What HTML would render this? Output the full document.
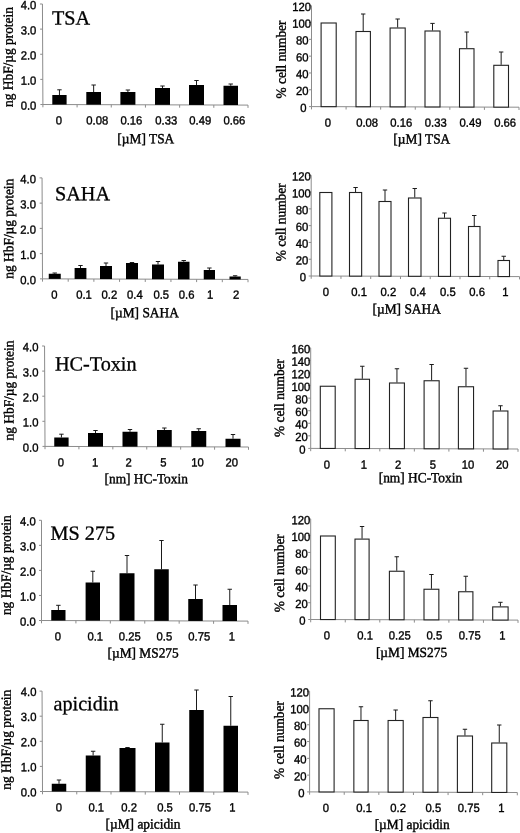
<!DOCTYPE html>
<html lang="en">
<head>
<meta charset="utf-8">
<title>HDAC inhibitors: HbF induction and cell number</title>
<style>
html,body{margin:0;padding:0;background:#fff;}
body{width:520px;height:833px;overflow:hidden;}
svg{display:block;}
.t{font-family:"Liberation Sans",Arial,sans-serif;font-size:12px;fill:#000;stroke:#000;stroke-width:0.36px;}
.l{font-family:"Liberation Serif","Times New Roman",serif;font-size:14.0px;fill:#000;stroke:#000;stroke-width:0.4px;}
.h{font-family:"Liberation Serif","Times New Roman",serif;font-size:20.2px;fill:#000;stroke:#000;stroke-width:0.3px;}
</style>
</head>
<body>
<svg width="520" height="833" viewBox="0 0 520 833">
<rect width="520" height="833" fill="#fff"/>
<!-- panel -->
<g stroke="#8c8c8c" stroke-width="1" fill="none">
<path d="M42.449999999999996 4.0L42.9 104.5V107.3M40.4 104.5H42.9L248 105.1"/>
<path d="M40.29 79.38h2.5M40.17 54.25h2.5M40.06 29.12h2.5M39.95 4.00h2.5M77.08 104.60V107.40M111.27 104.70V107.50M145.45 104.80V107.60M179.63 104.90V107.70M213.82 105.00V107.80M248.00 105.10V107.90"/>
</g>
<text class="t" text-anchor="end" transform="translate(36.3 109.8) rotate(0.03) scale(0.94 1)">0.0</text>
<text class="t" text-anchor="end" transform="translate(36.3 84.7) rotate(0.03) scale(0.94 1)">1.0</text>
<text class="t" text-anchor="end" transform="translate(36.3 59.5) rotate(0.03) scale(0.94 1)">2.0</text>
<text class="t" text-anchor="end" transform="translate(36.3 34.4) rotate(0.03) scale(0.94 1)">3.0</text>
<text class="t" text-anchor="end" transform="translate(36.3 9.3) rotate(0.03) scale(0.94 1)">4.0</text>
<text class="t" text-anchor="middle" transform="translate(58.8 124.6) rotate(0.03) scale(0.94 1)">0</text>
<text class="t" text-anchor="middle" transform="translate(97.2 124.6) rotate(0.03) scale(0.94 1)">0.08</text>
<text class="t" text-anchor="middle" transform="translate(131.4 124.6) rotate(0.03) scale(0.94 1)">0.16</text>
<text class="t" text-anchor="middle" transform="translate(166.2 124.6) rotate(0.03) scale(0.94 1)">0.33</text>
<text class="t" text-anchor="middle" transform="translate(200.3 124.6) rotate(0.03) scale(0.94 1)">0.49</text>
<text class="t" text-anchor="middle" transform="translate(234.4 124.6) rotate(0.03) scale(0.94 1)">0.66</text>
<path d="M59.45 95V89.8M57.25 89.8H61.65" stroke="#1a1a1a" stroke-width="1" fill="none"/>
<rect x="52.3" y="95" width="14.30" height="9.55" fill="#000"/>
<path d="M93.65 92V85M91.45 85H95.85" stroke="#1a1a1a" stroke-width="1" fill="none"/>
<rect x="86.3" y="92" width="14.70" height="12.65" fill="#000"/>
<path d="M127.90 92V90M125.70 90H130.10" stroke="#1a1a1a" stroke-width="1" fill="none"/>
<rect x="120.4" y="92" width="15.00" height="12.75" fill="#000"/>
<path d="M162.50 88V86M160.30 86H164.70" stroke="#1a1a1a" stroke-width="1" fill="none"/>
<rect x="155" y="88" width="15.00" height="16.85" fill="#000"/>
<path d="M196.50 85V80.5M194.30 80.5H198.70" stroke="#1a1a1a" stroke-width="1" fill="none"/>
<rect x="189" y="85" width="15.00" height="19.95" fill="#000"/>
<path d="M230.75 85.75V84M228.55 84H232.95" stroke="#1a1a1a" stroke-width="1" fill="none"/>
<rect x="223.5" y="85.75" width="14.50" height="19.30" fill="#000"/>
<text class="h" transform="translate(52 24.4) rotate(0.03)">TSA</text>
<text class="l" text-anchor="middle" transform="translate(145.8 143.2) rotate(0.03) scale(0.956 1)">[µM] TSA</text>
<text class="l" text-anchor="middle" transform="translate(12.8 57.0) rotate(-89.97) scale(0.956 1)">ng HbF/µg protein</text>
<!-- panel -->
<g stroke="#8c8c8c" stroke-width="1" fill="none">
<path d="M42.05 177.9L42.5 278.85V281.65000000000003M40.0 278.85H42.5L248 279.45000000000005"/>
<path d="M39.89 253.61h2.5M39.77 228.38h2.5M39.66 203.14h2.5M39.55 177.90h2.5M68.19 278.93V281.73M93.88 279.00V281.80M119.56 279.08V281.88M145.25 279.15V281.95M170.94 279.23V282.03M196.62 279.30V282.10M222.31 279.38V282.18M248.00 279.45V282.25"/>
</g>
<text class="t" text-anchor="end" transform="translate(35.9 284.2) rotate(0.03) scale(0.94 1)">0.0</text>
<text class="t" text-anchor="end" transform="translate(35.9 258.9) rotate(0.03) scale(0.94 1)">1.0</text>
<text class="t" text-anchor="end" transform="translate(35.9 233.7) rotate(0.03) scale(0.94 1)">2.0</text>
<text class="t" text-anchor="end" transform="translate(35.9 208.4) rotate(0.03) scale(0.94 1)">3.0</text>
<text class="t" text-anchor="end" transform="translate(35.9 183.2) rotate(0.03) scale(0.94 1)">4.0</text>
<text class="t" text-anchor="middle" transform="translate(54.5 298.8) rotate(0.03) scale(0.94 1)">0</text>
<text class="t" text-anchor="middle" transform="translate(84.0 298.8) rotate(0.03) scale(0.94 1)">0.1</text>
<text class="t" text-anchor="middle" transform="translate(109.4 298.8) rotate(0.03) scale(0.94 1)">0.2</text>
<text class="t" text-anchor="middle" transform="translate(134.9 298.8) rotate(0.03) scale(0.94 1)">0.4</text>
<text class="t" text-anchor="middle" transform="translate(161.2 298.8) rotate(0.03) scale(0.94 1)">0.5</text>
<text class="t" text-anchor="middle" transform="translate(186.6 298.8) rotate(0.03) scale(0.94 1)">0.6</text>
<text class="t" text-anchor="middle" transform="translate(210.1 298.8) rotate(0.03) scale(0.94 1)">1</text>
<text class="t" text-anchor="middle" transform="translate(236.1 298.8) rotate(0.03) scale(0.94 1)">2</text>
<path d="M54.75 273.75V273M52.55 273H56.95" stroke="#1a1a1a" stroke-width="1" fill="none"/>
<rect x="48.75" y="273.75" width="12.00" height="5.14" fill="#000"/>
<path d="M80.50 268V265.5M78.30 265.5H82.70" stroke="#1a1a1a" stroke-width="1" fill="none"/>
<rect x="74.6" y="268" width="11.80" height="10.96" fill="#000"/>
<path d="M106.00 266V263M103.80 263H108.20" stroke="#1a1a1a" stroke-width="1" fill="none"/>
<rect x="100" y="266" width="12.00" height="13.04" fill="#000"/>
<path d="M132.00 263V262.5M129.80 262.5H134.20" stroke="#1a1a1a" stroke-width="1" fill="none"/>
<rect x="126" y="263" width="12.00" height="16.11" fill="#000"/>
<path d="M158.00 264.5V261.5M155.80 261.5H160.20" stroke="#1a1a1a" stroke-width="1" fill="none"/>
<rect x="152" y="264.5" width="12.00" height="14.69" fill="#000"/>
<path d="M183.75 261.75V260.5M181.55 260.5H185.95" stroke="#1a1a1a" stroke-width="1" fill="none"/>
<rect x="178" y="261.75" width="11.50" height="17.51" fill="#000"/>
<path d="M209.38 270V268M207.18 268H211.57" stroke="#1a1a1a" stroke-width="1" fill="none"/>
<rect x="203.75" y="270" width="11.25" height="9.34" fill="#000"/>
<path d="M235.12 276.5V275.75M232.93 275.75H237.32" stroke="#1a1a1a" stroke-width="1" fill="none"/>
<rect x="229.5" y="276.5" width="11.25" height="2.91" fill="#000"/>
<text class="h" transform="translate(55.0 200.3) rotate(0.03)">SAHA</text>
<text class="l" text-anchor="middle" transform="translate(144.7 317.3) rotate(0.03) scale(0.956 1)">[µM] SAHA</text>
<text class="l" text-anchor="middle" transform="translate(13.2 228.7) rotate(-89.97) scale(0.956 1)">ng HbF/µg protein</text>
<!-- panel -->
<g stroke="#8c8c8c" stroke-width="1" fill="none">
<path d="M44.55 346L45.0 446.4V449.2M42.5 446.4H45.0L248.5 447.0"/>
<path d="M42.39 421.30h2.5M42.27 396.20h2.5M42.16 371.10h2.5M42.05 346.00h2.5M78.92 446.50V449.30M112.83 446.60V449.40M146.75 446.70V449.50M180.67 446.80V449.60M214.58 446.90V449.70M248.50 447.00V449.80"/>
</g>
<text class="t" text-anchor="end" transform="translate(38.4 451.7) rotate(0.03) scale(0.94 1)">0.0</text>
<text class="t" text-anchor="end" transform="translate(38.4 426.6) rotate(0.03) scale(0.94 1)">1.0</text>
<text class="t" text-anchor="end" transform="translate(38.4 401.5) rotate(0.03) scale(0.94 1)">2.0</text>
<text class="t" text-anchor="end" transform="translate(38.4 376.4) rotate(0.03) scale(0.94 1)">3.0</text>
<text class="t" text-anchor="end" transform="translate(38.4 351.3) rotate(0.03) scale(0.94 1)">4.0</text>
<text class="t" text-anchor="middle" transform="translate(61.0 466.4) rotate(0.03) scale(0.94 1)">0</text>
<text class="t" text-anchor="middle" transform="translate(95.2 466.4) rotate(0.03) scale(0.94 1)">1</text>
<text class="t" text-anchor="middle" transform="translate(128.6 466.4) rotate(0.03) scale(0.94 1)">2</text>
<text class="t" text-anchor="middle" transform="translate(163.5 466.4) rotate(0.03) scale(0.94 1)">5</text>
<text class="t" text-anchor="middle" transform="translate(197.6 466.4) rotate(0.03) scale(0.94 1)">10</text>
<text class="t" text-anchor="middle" transform="translate(231.8 466.4) rotate(0.03) scale(0.94 1)">20</text>
<path d="M61.42 437.5V434.2M59.22 434.2H63.62" stroke="#1a1a1a" stroke-width="1" fill="none"/>
<rect x="54.25" y="437.5" width="14.35" height="8.95" fill="#000"/>
<path d="M95.50 433V430.5M93.30 430.5H97.70" stroke="#1a1a1a" stroke-width="1" fill="none"/>
<rect x="88" y="433" width="15.00" height="13.55" fill="#000"/>
<path d="M130.00 431.75V429.5M127.80 429.5H132.20" stroke="#1a1a1a" stroke-width="1" fill="none"/>
<rect x="122.5" y="431.75" width="15.00" height="14.90" fill="#000"/>
<path d="M164.38 430V428M162.18 428H166.57" stroke="#1a1a1a" stroke-width="1" fill="none"/>
<rect x="157" y="430" width="14.75" height="16.75" fill="#000"/>
<path d="M198.75 431V428.75M196.55 428.75H200.95" stroke="#1a1a1a" stroke-width="1" fill="none"/>
<rect x="191.25" y="431" width="15.00" height="15.85" fill="#000"/>
<path d="M233.00 438.75V434.5M230.80 434.5H235.20" stroke="#1a1a1a" stroke-width="1" fill="none"/>
<rect x="225.5" y="438.75" width="15.00" height="8.20" fill="#000"/>
<text class="h" transform="translate(55.0 370.4) rotate(0.03)">HC-Toxin</text>
<text class="l" text-anchor="middle" transform="translate(146.2 483.3) rotate(0.03) scale(0.956 1)">[nm] HC-Toxin</text>
<text class="l" text-anchor="middle" transform="translate(13.5 390.5) rotate(-89.97) scale(0.956 1)">ng HbF/µg protein</text>
<!-- panel -->
<g stroke="#8c8c8c" stroke-width="1" fill="none">
<path d="M41.5 520.3L41.5 620.5V623.3M39.0 620.5H41.5L248 621.1"/>
<path d="M39.00 595.45h2.5M39.00 570.40h2.5M39.00 545.35h2.5M39.00 520.30h2.5M75.92 620.60V623.40M110.33 620.70V623.50M144.75 620.80V623.60M179.17 620.90V623.70M213.58 621.00V623.80M248.00 621.10V623.90"/>
</g>
<text class="t" text-anchor="end" transform="translate(35.7 625.8) rotate(0.03) scale(0.94 1)">0.0</text>
<text class="t" text-anchor="end" transform="translate(35.7 600.8) rotate(0.03) scale(0.94 1)">1.0</text>
<text class="t" text-anchor="end" transform="translate(35.7 575.7) rotate(0.03) scale(0.94 1)">2.0</text>
<text class="t" text-anchor="end" transform="translate(35.7 550.6) rotate(0.03) scale(0.94 1)">3.0</text>
<text class="t" text-anchor="end" transform="translate(35.7 525.6) rotate(0.03) scale(0.94 1)">4.0</text>
<text class="t" text-anchor="middle" transform="translate(57.8 640.6) rotate(0.03) scale(0.94 1)">0</text>
<text class="t" text-anchor="middle" transform="translate(95.2 640.6) rotate(0.03) scale(0.94 1)">0.1</text>
<text class="t" text-anchor="middle" transform="translate(129.8 640.6) rotate(0.03) scale(0.94 1)">0.25</text>
<text class="t" text-anchor="middle" transform="translate(164.4 640.6) rotate(0.03) scale(0.94 1)">0.5</text>
<text class="t" text-anchor="middle" transform="translate(199.2 640.6) rotate(0.03) scale(0.94 1)">0.75</text>
<text class="t" text-anchor="middle" transform="translate(231.8 640.6) rotate(0.03) scale(0.94 1)">1</text>
<path d="M58.38 610V605.3M56.17 605.3H60.58" stroke="#1a1a1a" stroke-width="1" fill="none"/>
<rect x="51.25" y="610" width="14.25" height="10.55" fill="#000"/>
<path d="M92.80 582.5V571.25M90.60 571.25H95.00" stroke="#1a1a1a" stroke-width="1" fill="none"/>
<rect x="85.6" y="582.5" width="14.40" height="38.15" fill="#000"/>
<path d="M127.00 573.25V555.5M124.80 555.5H129.20" stroke="#1a1a1a" stroke-width="1" fill="none"/>
<rect x="119.5" y="573.25" width="15.00" height="47.50" fill="#000"/>
<path d="M161.50 569.25V540.5M159.30 540.5H163.70" stroke="#1a1a1a" stroke-width="1" fill="none"/>
<rect x="154.25" y="569.25" width="14.50" height="51.60" fill="#000"/>
<path d="M195.50 599V585M193.30 585H197.70" stroke="#1a1a1a" stroke-width="1" fill="none"/>
<rect x="188.25" y="599" width="14.50" height="21.95" fill="#000"/>
<path d="M229.75 605V589.25M227.55 589.25H231.95" stroke="#1a1a1a" stroke-width="1" fill="none"/>
<rect x="222.5" y="605" width="14.50" height="16.05" fill="#000"/>
<text class="h" transform="translate(50.6 539.7) rotate(0.03)">MS 275</text>
<text class="l" text-anchor="middle" transform="translate(143.1 657.5) rotate(0.03) scale(0.956 1)">[µM] MS275</text>
<text class="l" text-anchor="middle" transform="translate(10.7 565.15) rotate(-89.97) scale(0.956 1)">ng HbF/µg protein</text>
<!-- panel -->
<g stroke="#8c8c8c" stroke-width="1" fill="none">
<path d="M42.05 691.1L42.5 791.5V794.3M40.0 791.5H42.5L248 792.1"/>
<path d="M39.89 766.40h2.5M39.77 741.30h2.5M39.66 716.20h2.5M39.55 691.10h2.5M76.75 791.60V794.40M111.00 791.70V794.50M145.25 791.80V794.60M179.50 791.90V794.70M213.75 792.00V794.80M248.00 792.10V794.90"/>
</g>
<text class="t" text-anchor="end" transform="translate(36.4 796.4) rotate(0.03) scale(0.94 1)">0.0</text>
<text class="t" text-anchor="end" transform="translate(36.4 771.3) rotate(0.03) scale(0.94 1)">1.0</text>
<text class="t" text-anchor="end" transform="translate(36.4 746.2) rotate(0.03) scale(0.94 1)">2.0</text>
<text class="t" text-anchor="end" transform="translate(36.4 721.1) rotate(0.03) scale(0.94 1)">3.0</text>
<text class="t" text-anchor="end" transform="translate(36.4 696.0) rotate(0.03) scale(0.94 1)">4.0</text>
<text class="t" text-anchor="middle" transform="translate(58.8 811.4) rotate(0.03) scale(0.94 1)">0</text>
<text class="t" text-anchor="middle" transform="translate(96.2 811.4) rotate(0.03) scale(0.94 1)">0.1</text>
<text class="t" text-anchor="middle" transform="translate(129.1 811.4) rotate(0.03) scale(0.94 1)">0.2</text>
<text class="t" text-anchor="middle" transform="translate(165.0 811.4) rotate(0.03) scale(0.94 1)">0.5</text>
<text class="t" text-anchor="middle" transform="translate(200.0 811.4) rotate(0.03) scale(0.94 1)">0.75</text>
<text class="t" text-anchor="middle" transform="translate(232.3 811.4) rotate(0.03) scale(0.94 1)">1</text>
<path d="M59.00 783.75V780M56.80 780H61.20" stroke="#1a1a1a" stroke-width="1" fill="none"/>
<rect x="51.75" y="783.75" width="14.50" height="7.80" fill="#000"/>
<path d="M93.12 755.5V751.25M90.92 751.25H95.33" stroke="#1a1a1a" stroke-width="1" fill="none"/>
<rect x="85.75" y="755.5" width="14.75" height="36.15" fill="#000"/>
<path d="M127.50 748V747.5M125.30 747.5H129.70" stroke="#1a1a1a" stroke-width="1" fill="none"/>
<rect x="119.5" y="748" width="16.00" height="43.75" fill="#000"/>
<path d="M162.25 742.5V724.25M160.05 724.25H164.45" stroke="#1a1a1a" stroke-width="1" fill="none"/>
<rect x="155" y="742.5" width="14.50" height="49.35" fill="#000"/>
<path d="M196.50 710V690M194.30 690H198.70" stroke="#1a1a1a" stroke-width="1" fill="none"/>
<rect x="189.25" y="710" width="14.50" height="81.95" fill="#000"/>
<path d="M230.75 725.75V696.5M228.55 696.5H232.95" stroke="#1a1a1a" stroke-width="1" fill="none"/>
<rect x="223.5" y="725.75" width="14.50" height="66.30" fill="#000"/>
<text class="h" transform="translate(53.5 710.2) rotate(0.03)">apicidin</text>
<text class="l" text-anchor="middle" transform="translate(143.0 828.6) rotate(0.03) scale(0.956 1)">[µM] apicidin</text>
<text class="l" text-anchor="middle" transform="translate(10.7 739.7) rotate(-89.97) scale(0.956 1)">ng HbF/µg protein</text>
<!-- panel -->
<g stroke="#8c8c8c" stroke-width="1" fill="none">
<path d="M311.5 5.7L311.5 106.6V109.39999999999999M309.0 106.6H311.5L519 107.19999999999999"/>
<path d="M309.00 89.78h2.5M309.00 72.97h2.5M309.00 56.15h2.5M309.00 39.33h2.5M309.00 22.52h2.5M309.00 5.70h2.5M346.08 106.70V109.50M380.67 106.80V109.60M415.25 106.90V109.70M449.83 107.00V109.80M484.42 107.10V109.90M519.00 107.20V110.00"/>
</g>
<text class="t" text-anchor="end" transform="translate(306.4 111.9) rotate(0.03) scale(0.94 1)">0</text>
<text class="t" text-anchor="end" transform="translate(308.5 95.1) rotate(0.03) scale(0.94 1)">20</text>
<text class="t" text-anchor="end" transform="translate(308.5 78.3) rotate(0.03) scale(0.94 1)">40</text>
<text class="t" text-anchor="end" transform="translate(308.5 61.4) rotate(0.03) scale(0.94 1)">60</text>
<text class="t" text-anchor="end" transform="translate(308.5 44.6) rotate(0.03) scale(0.94 1)">80</text>
<text class="t" text-anchor="end" transform="translate(311.0 27.8) rotate(0.03) scale(0.94 1)">100</text>
<text class="t" text-anchor="end" transform="translate(311.0 11.0) rotate(0.03) scale(0.94 1)">120</text>
<text class="t" text-anchor="middle" transform="translate(327.8 126.8) rotate(0.03) scale(0.94 1)">0</text>
<text class="t" text-anchor="middle" transform="translate(367.1 126.8) rotate(0.03) scale(0.94 1)">0.08</text>
<text class="t" text-anchor="middle" transform="translate(401.2 126.8) rotate(0.03) scale(0.94 1)">0.16</text>
<text class="t" text-anchor="middle" transform="translate(435.8 126.8) rotate(0.03) scale(0.94 1)">0.33</text>
<text class="t" text-anchor="middle" transform="translate(470.5 126.8) rotate(0.03) scale(0.94 1)">0.49</text>
<text class="t" text-anchor="middle" transform="translate(505.1 126.8) rotate(0.03) scale(0.94 1)">0.66</text>
<rect x="321.1" y="23.0" width="15.10" height="83.65" fill="#fff" stroke="#222" stroke-width="1.1"/>
<path d="M363.20 31V14M361.00 14H365.40" stroke="#1a1a1a" stroke-width="1" fill="none"/>
<rect x="356.0" y="31.5" width="14.40" height="75.25" fill="#fff" stroke="#222" stroke-width="1.1"/>
<path d="M397.65 27.5V19M395.45 19H399.85" stroke="#1a1a1a" stroke-width="1" fill="none"/>
<rect x="390.1" y="28.0" width="15.10" height="78.85" fill="#fff" stroke="#222" stroke-width="1.1"/>
<path d="M432.50 30.5V23.4M430.30 23.4H434.70" stroke="#1a1a1a" stroke-width="1" fill="none"/>
<rect x="425.0" y="31.0" width="15.00" height="75.95" fill="#fff" stroke="#222" stroke-width="1.1"/>
<path d="M466.75 48.2V32M464.55 32H468.95" stroke="#1a1a1a" stroke-width="1" fill="none"/>
<rect x="459.5" y="48.7" width="14.50" height="58.35" fill="#fff" stroke="#222" stroke-width="1.1"/>
<path d="M501.15 64.8V52M498.95 52H503.35" stroke="#1a1a1a" stroke-width="1" fill="none"/>
<rect x="493.8" y="65.3" width="14.70" height="41.85" fill="#fff" stroke="#222" stroke-width="1.1"/>
<text class="l" text-anchor="middle" transform="translate(421.8 143.5) rotate(0.03) scale(0.956 1)">[µM] TSA</text>
<text class="l" text-anchor="middle" transform="translate(285.8 59.5) rotate(-89.97) scale(0.956 1)">% cell number</text>
<!-- panel -->
<g stroke="#8c8c8c" stroke-width="1" fill="none">
<path d="M311.2 175.3L311.2 276.0V278.8M308.7 276.0H311.2L519.5 276.6"/>
<path d="M308.70 259.22h2.5M308.70 242.43h2.5M308.70 225.65h2.5M308.70 208.87h2.5M308.70 192.08h2.5M308.70 175.30h2.5M340.96 276.09V278.89M370.71 276.17V278.97M400.47 276.26V279.06M430.23 276.34V279.14M459.99 276.43V279.23M489.74 276.51V279.31M519.50 276.60V279.40"/>
</g>
<text class="t" text-anchor="end" transform="translate(306.1 281.3) rotate(0.03) scale(0.94 1)">0</text>
<text class="t" text-anchor="end" transform="translate(308.2 264.5) rotate(0.03) scale(0.94 1)">20</text>
<text class="t" text-anchor="end" transform="translate(308.2 247.7) rotate(0.03) scale(0.94 1)">40</text>
<text class="t" text-anchor="end" transform="translate(308.2 231.0) rotate(0.03) scale(0.94 1)">60</text>
<text class="t" text-anchor="end" transform="translate(308.2 214.2) rotate(0.03) scale(0.94 1)">80</text>
<text class="t" text-anchor="end" transform="translate(310.7 197.4) rotate(0.03) scale(0.94 1)">100</text>
<text class="t" text-anchor="end" transform="translate(310.7 180.6) rotate(0.03) scale(0.94 1)">120</text>
<text class="t" text-anchor="middle" transform="translate(325.8 295.9) rotate(0.03) scale(0.94 1)">0</text>
<text class="t" text-anchor="middle" transform="translate(359.1 295.9) rotate(0.03) scale(0.94 1)">0.1</text>
<text class="t" text-anchor="middle" transform="translate(388.4 295.9) rotate(0.03) scale(0.94 1)">0.2</text>
<text class="t" text-anchor="middle" transform="translate(417.9 295.9) rotate(0.03) scale(0.94 1)">0.4</text>
<text class="t" text-anchor="middle" transform="translate(447.9 295.9) rotate(0.03) scale(0.94 1)">0.5</text>
<text class="t" text-anchor="middle" transform="translate(477.1 295.9) rotate(0.03) scale(0.94 1)">0.6</text>
<text class="t" text-anchor="middle" transform="translate(505.5 295.9) rotate(0.03) scale(0.94 1)">1</text>
<rect x="319.8" y="192.5" width="12.10" height="83.54" fill="#fff" stroke="#222" stroke-width="1.1"/>
<path d="M355.57 192V187.5M353.38 187.5H357.77" stroke="#1a1a1a" stroke-width="1" fill="none"/>
<rect x="349.5" y="192.5" width="12.15" height="83.63" fill="#fff" stroke="#222" stroke-width="1.1"/>
<path d="M385.00 201V190M382.80 190H387.20" stroke="#1a1a1a" stroke-width="1" fill="none"/>
<rect x="379.0" y="201.5" width="12.00" height="74.71" fill="#fff" stroke="#222" stroke-width="1.1"/>
<path d="M414.75 197.5V188.5M412.55 188.5H416.95" stroke="#1a1a1a" stroke-width="1" fill="none"/>
<rect x="408.5" y="198.0" width="12.50" height="78.30" fill="#fff" stroke="#222" stroke-width="1.1"/>
<path d="M444.50 217.75V213M442.30 213H446.70" stroke="#1a1a1a" stroke-width="1" fill="none"/>
<rect x="438.5" y="218.25" width="12.00" height="58.13" fill="#fff" stroke="#222" stroke-width="1.1"/>
<path d="M474.25 226V215.5M472.05 215.5H476.45" stroke="#1a1a1a" stroke-width="1" fill="none"/>
<rect x="468.5" y="226.5" width="11.50" height="49.97" fill="#fff" stroke="#222" stroke-width="1.1"/>
<path d="M503.75 260V256.25M501.55 256.25H505.95" stroke="#1a1a1a" stroke-width="1" fill="none"/>
<rect x="498.0" y="260.5" width="11.50" height="16.05" fill="#fff" stroke="#222" stroke-width="1.1"/>
<text class="l" text-anchor="middle" transform="translate(406.7 313.5) rotate(0.03) scale(0.956 1)">[µM] SAHA</text>
<text class="l" text-anchor="middle" transform="translate(285.4 222.3) rotate(-89.97) scale(0.956 1)">% cell number</text>
<!-- panel -->
<g stroke="#8c8c8c" stroke-width="1" fill="none">
<path d="M310.7 347.9L310.7 448.4V451.2M308.2 448.4H310.7L518 449.0"/>
<path d="M308.20 435.84h2.5M308.20 423.27h2.5M308.20 410.71h2.5M308.20 398.15h2.5M308.20 385.59h2.5M308.20 373.02h2.5M308.20 360.46h2.5M308.20 347.90h2.5M345.25 448.50V451.30M379.80 448.60V451.40M414.35 448.70V451.50M448.90 448.80V451.60M483.45 448.90V451.70M518.00 449.00V451.80"/>
</g>
<text class="t" text-anchor="end" transform="translate(305.6 453.7) rotate(0.03) scale(0.94 1)">0</text>
<text class="t" text-anchor="end" transform="translate(307.7 441.1) rotate(0.03) scale(0.94 1)">20</text>
<text class="t" text-anchor="end" transform="translate(307.7 428.6) rotate(0.03) scale(0.94 1)">40</text>
<text class="t" text-anchor="end" transform="translate(307.7 416.0) rotate(0.03) scale(0.94 1)">60</text>
<text class="t" text-anchor="end" transform="translate(307.7 403.4) rotate(0.03) scale(0.94 1)">80</text>
<text class="t" text-anchor="end" transform="translate(310.2 390.9) rotate(0.03) scale(0.94 1)">100</text>
<text class="t" text-anchor="end" transform="translate(310.2 378.3) rotate(0.03) scale(0.94 1)">120</text>
<text class="t" text-anchor="end" transform="translate(310.2 365.8) rotate(0.03) scale(0.94 1)">140</text>
<text class="t" text-anchor="end" transform="translate(310.2 353.2) rotate(0.03) scale(0.94 1)">160</text>
<text class="t" text-anchor="middle" transform="translate(326.8 468.8) rotate(0.03) scale(0.94 1)">0</text>
<text class="t" text-anchor="middle" transform="translate(363.8 468.8) rotate(0.03) scale(0.94 1)">1</text>
<text class="t" text-anchor="middle" transform="translate(398.1 468.8) rotate(0.03) scale(0.94 1)">2</text>
<text class="t" text-anchor="middle" transform="translate(432.9 468.8) rotate(0.03) scale(0.94 1)">5</text>
<text class="t" text-anchor="middle" transform="translate(467.9 468.8) rotate(0.03) scale(0.94 1)">10</text>
<text class="t" text-anchor="middle" transform="translate(502.3 468.8) rotate(0.03) scale(0.94 1)">20</text>
<rect x="320.3" y="386.25" width="14.90" height="62.20" fill="#fff" stroke="#222" stroke-width="1.1"/>
<path d="M362.30 378.75V366.25M360.10 366.25H364.50" stroke="#1a1a1a" stroke-width="1" fill="none"/>
<rect x="355.1" y="379.25" width="14.40" height="69.30" fill="#fff" stroke="#222" stroke-width="1.1"/>
<path d="M396.95 382.5V368.75M394.75 368.75H399.15" stroke="#1a1a1a" stroke-width="1" fill="none"/>
<rect x="389.5" y="383.0" width="14.90" height="65.65" fill="#fff" stroke="#222" stroke-width="1.1"/>
<path d="M431.62 380.25V364.5M429.43 364.5H433.82" stroke="#1a1a1a" stroke-width="1" fill="none"/>
<rect x="424.1" y="380.75" width="15.05" height="68.00" fill="#fff" stroke="#222" stroke-width="1.1"/>
<path d="M465.98 386.25V368.25M463.78 368.25H468.18" stroke="#1a1a1a" stroke-width="1" fill="none"/>
<rect x="458.4" y="386.75" width="15.15" height="62.10" fill="#fff" stroke="#222" stroke-width="1.1"/>
<path d="M500.50 410.5V405.75M498.30 405.75H502.70" stroke="#1a1a1a" stroke-width="1" fill="none"/>
<rect x="493.1" y="411.0" width="14.80" height="37.95" fill="#fff" stroke="#222" stroke-width="1.1"/>
<text class="l" text-anchor="middle" transform="translate(420.4 482.3) rotate(0.03) scale(0.956 1)">[nm] HC-Toxin</text>
<text class="l" text-anchor="middle" transform="translate(284.1 398.0) rotate(-89.97) scale(0.956 1)">% cell number</text>
<!-- panel -->
<g stroke="#8c8c8c" stroke-width="1" fill="none">
<path d="M310.7 518.9L310.7 619.5V622.3M308.2 619.5H310.7L518 620.1"/>
<path d="M308.20 602.73h2.5M308.20 585.97h2.5M308.20 569.20h2.5M308.20 552.43h2.5M308.20 535.67h2.5M308.20 518.90h2.5M345.25 619.60V622.40M379.80 619.70V622.50M414.35 619.80V622.60M448.90 619.90V622.70M483.45 620.00V622.80M518.00 620.10V622.90"/>
</g>
<text class="t" text-anchor="end" transform="translate(305.6 624.8) rotate(0.03) scale(0.94 1)">0</text>
<text class="t" text-anchor="end" transform="translate(307.7 608.0) rotate(0.03) scale(0.94 1)">20</text>
<text class="t" text-anchor="end" transform="translate(307.7 591.3) rotate(0.03) scale(0.94 1)">40</text>
<text class="t" text-anchor="end" transform="translate(307.7 574.5) rotate(0.03) scale(0.94 1)">60</text>
<text class="t" text-anchor="end" transform="translate(307.7 557.7) rotate(0.03) scale(0.94 1)">80</text>
<text class="t" text-anchor="end" transform="translate(310.2 541.0) rotate(0.03) scale(0.94 1)">100</text>
<text class="t" text-anchor="end" transform="translate(310.2 524.2) rotate(0.03) scale(0.94 1)">120</text>
<text class="t" text-anchor="middle" transform="translate(326.8 639.6) rotate(0.03) scale(0.94 1)">0</text>
<text class="t" text-anchor="middle" transform="translate(365.1 639.6) rotate(0.03) scale(0.94 1)">0.1</text>
<text class="t" text-anchor="middle" transform="translate(399.8 639.6) rotate(0.03) scale(0.94 1)">0.25</text>
<text class="t" text-anchor="middle" transform="translate(434.4 639.6) rotate(0.03) scale(0.94 1)">0.5</text>
<text class="t" text-anchor="middle" transform="translate(469.7 639.6) rotate(0.03) scale(0.94 1)">0.75</text>
<text class="t" text-anchor="middle" transform="translate(502.3 639.6) rotate(0.03) scale(0.94 1)">1</text>
<rect x="320.5" y="536.0" width="14.80" height="83.55" fill="#fff" stroke="#222" stroke-width="1.1"/>
<path d="M362.05 538.6V526.5M359.85 526.5H364.25" stroke="#1a1a1a" stroke-width="1" fill="none"/>
<rect x="355.0" y="539.1" width="14.10" height="80.55" fill="#fff" stroke="#222" stroke-width="1.1"/>
<path d="M396.75 570.75V556.75M394.55 556.75H398.95" stroke="#1a1a1a" stroke-width="1" fill="none"/>
<rect x="389.4" y="571.25" width="14.70" height="48.50" fill="#fff" stroke="#222" stroke-width="1.1"/>
<path d="M431.43 588.75V574.5M429.23 574.5H433.62" stroke="#1a1a1a" stroke-width="1" fill="none"/>
<rect x="424.0" y="589.25" width="14.85" height="30.60" fill="#fff" stroke="#222" stroke-width="1.1"/>
<path d="M465.77 591.25V576.25M463.57 576.25H467.97" stroke="#1a1a1a" stroke-width="1" fill="none"/>
<rect x="458.65" y="591.75" width="14.25" height="28.20" fill="#fff" stroke="#222" stroke-width="1.1"/>
<path d="M500.40 606.4V602.3M498.20 602.3H502.60" stroke="#1a1a1a" stroke-width="1" fill="none"/>
<rect x="492.7" y="606.9" width="15.40" height="13.15" fill="#fff" stroke="#222" stroke-width="1.1"/>
<text class="l" text-anchor="middle" transform="translate(411.5 656.9) rotate(0.03) scale(0.956 1)">[µM] MS275</text>
<text class="l" text-anchor="middle" transform="translate(284.1 573.2) rotate(-89.97) scale(0.956 1)">% cell number</text>
<!-- panel -->
<g stroke="#8c8c8c" stroke-width="1" fill="none">
<path d="M309.6 691.2L309.6 791.9V794.6999999999999M307.1 791.9H309.6L517.3 792.5"/>
<path d="M307.10 775.12h2.5M307.10 758.33h2.5M307.10 741.55h2.5M307.10 724.77h2.5M307.10 707.98h2.5M307.10 691.20h2.5M344.22 792.00V794.80M378.83 792.10V794.90M413.45 792.20V795.00M448.07 792.30V795.10M482.68 792.40V795.20M517.30 792.50V795.30"/>
</g>
<text class="t" text-anchor="end" transform="translate(304.5 797.2) rotate(0.03) scale(0.94 1)">0</text>
<text class="t" text-anchor="end" transform="translate(306.6 780.4) rotate(0.03) scale(0.94 1)">20</text>
<text class="t" text-anchor="end" transform="translate(306.6 763.6) rotate(0.03) scale(0.94 1)">40</text>
<text class="t" text-anchor="end" transform="translate(306.6 746.8) rotate(0.03) scale(0.94 1)">60</text>
<text class="t" text-anchor="end" transform="translate(306.6 730.1) rotate(0.03) scale(0.94 1)">80</text>
<text class="t" text-anchor="end" transform="translate(309.1 713.3) rotate(0.03) scale(0.94 1)">100</text>
<text class="t" text-anchor="end" transform="translate(309.1 696.5) rotate(0.03) scale(0.94 1)">120</text>
<text class="t" text-anchor="middle" transform="translate(325.8 811.9) rotate(0.03) scale(0.94 1)">0</text>
<text class="t" text-anchor="middle" transform="translate(364.1 811.9) rotate(0.03) scale(0.94 1)">0.1</text>
<text class="t" text-anchor="middle" transform="translate(398.1 811.9) rotate(0.03) scale(0.94 1)">0.2</text>
<text class="t" text-anchor="middle" transform="translate(433.4 811.9) rotate(0.03) scale(0.94 1)">0.5</text>
<text class="t" text-anchor="middle" transform="translate(468.7 811.9) rotate(0.03) scale(0.94 1)">0.75</text>
<text class="t" text-anchor="middle" transform="translate(501.3 811.9) rotate(0.03) scale(0.94 1)">1</text>
<rect x="319.0" y="708.75" width="15.10" height="83.20" fill="#fff" stroke="#222" stroke-width="1.1"/>
<path d="M360.98 720V706.75M358.78 706.75H363.18" stroke="#1a1a1a" stroke-width="1" fill="none"/>
<rect x="353.85" y="720.5" width="14.25" height="71.55" fill="#fff" stroke="#222" stroke-width="1.1"/>
<path d="M395.65 720V710M393.45 710H397.85" stroke="#1a1a1a" stroke-width="1" fill="none"/>
<rect x="388.1" y="720.5" width="15.10" height="71.65" fill="#fff" stroke="#222" stroke-width="1.1"/>
<path d="M430.45 717V700.75M428.25 700.75H432.65" stroke="#1a1a1a" stroke-width="1" fill="none"/>
<rect x="423.0" y="717.5" width="14.90" height="74.75" fill="#fff" stroke="#222" stroke-width="1.1"/>
<path d="M464.95 735.5V729.25M462.75 729.25H467.15" stroke="#1a1a1a" stroke-width="1" fill="none"/>
<rect x="457.4" y="736.0" width="15.10" height="56.35" fill="#fff" stroke="#222" stroke-width="1.1"/>
<path d="M499.25 742.5V725M497.05 725H501.45" stroke="#1a1a1a" stroke-width="1" fill="none"/>
<rect x="491.7" y="743.0" width="15.10" height="49.45" fill="#fff" stroke="#222" stroke-width="1.1"/>
<text class="l" text-anchor="middle" transform="translate(412.1 829.1) rotate(0.03) scale(0.956 1)">[µM] apicidin</text>
<text class="l" text-anchor="middle" transform="translate(283.7 740.1) rotate(-89.97) scale(0.956 1)">% cell number</text>
</svg>
</body>
</html>
